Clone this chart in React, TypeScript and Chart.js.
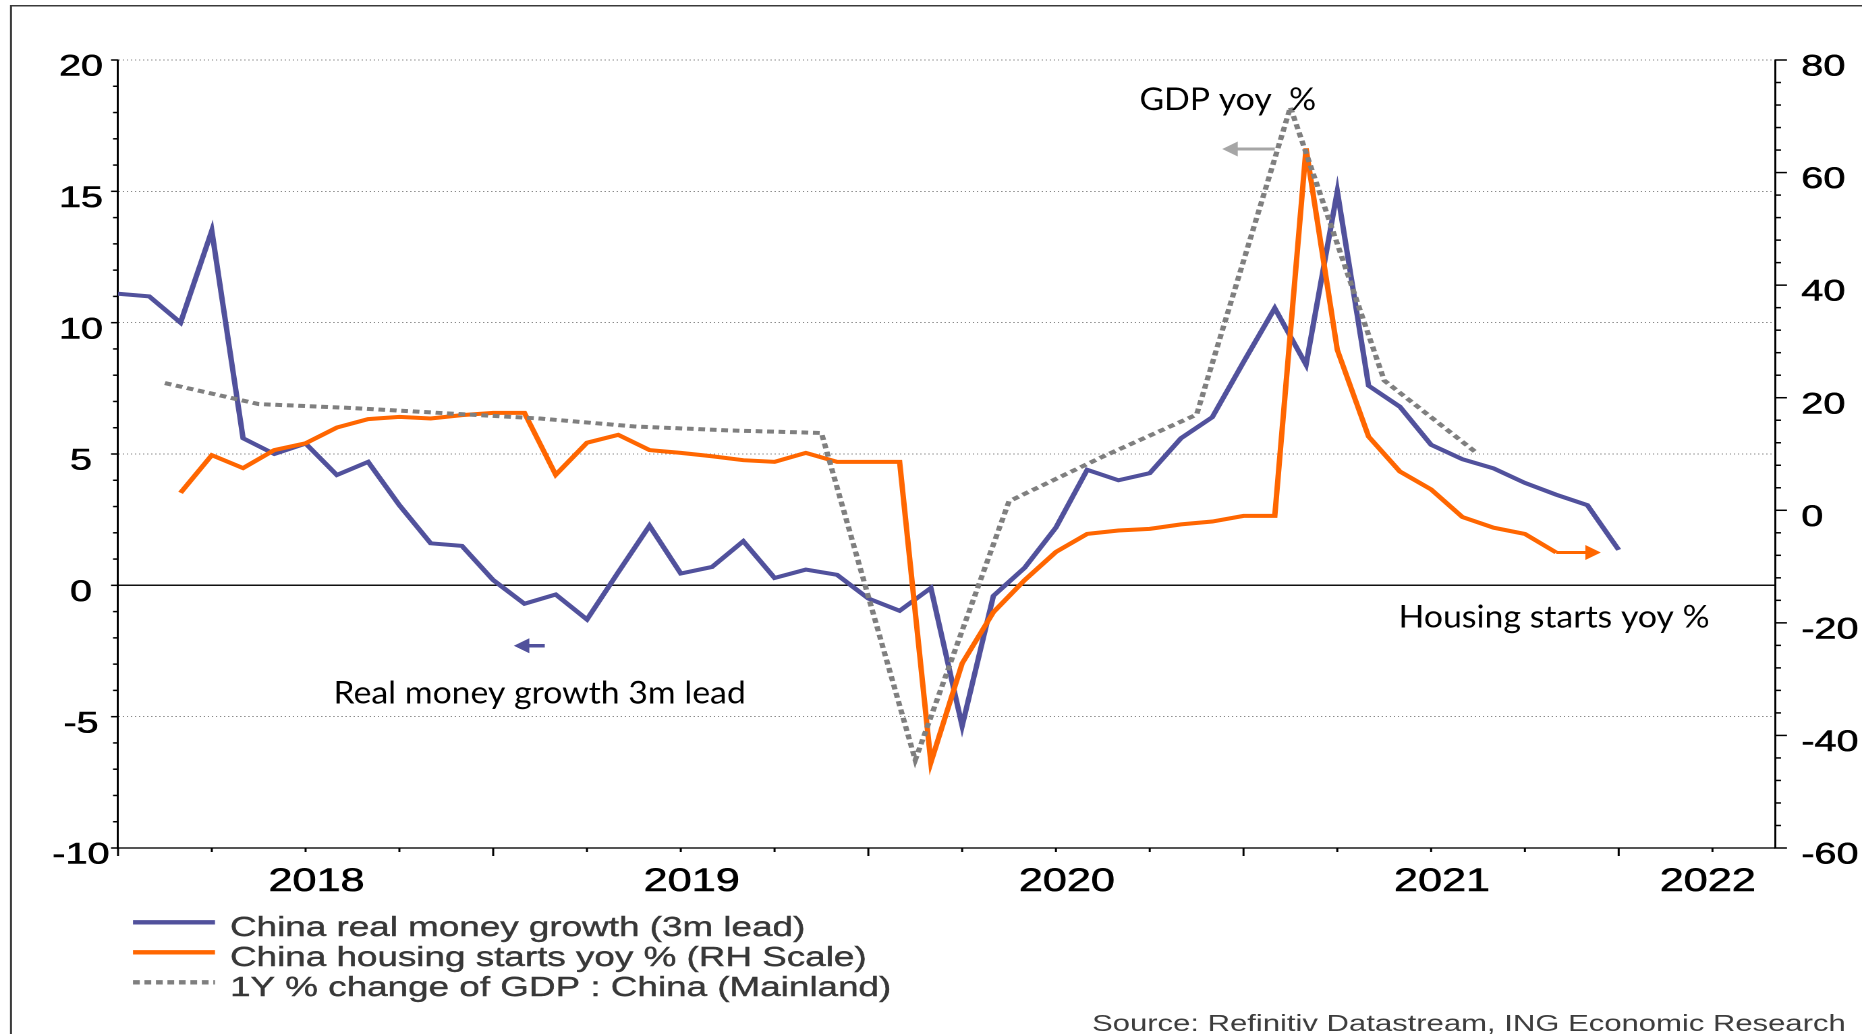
import React, { useEffect, useRef } from 'react';
import { Chart, registerables } from 'chart.js';

Chart.register(...registerables);

// ---------------- data (months counted from Jan 2018, month-end plotting) ----------------
const moneyStartMonth = 0;
const moneyGrowth = [
  11.1, 11.0, 10.0, 13.5, 5.6, 5.0, 5.4, 4.2, 4.7, 3.05,
  1.6, 1.5, 0.2, -0.7, -0.35, -1.3, 0.5, 2.27, 0.45, 0.7,
  1.68, 0.28, 0.6, 0.4, -0.5, -0.97, -0.1, -5.35, -0.4, 0.67,
  2.2, 4.4, 4.0, 4.27, 5.6, 6.4, 8.5, 10.55, 8.4, 15.0,
  7.6, 6.8, 5.35, 4.8, 4.45, 3.9, 3.45, 3.05, 1.35,
];

const housingStartMonth = 2;
const housingStarts = [
  3.1, 9.8, 7.5, 10.7, 11.9, 14.7, 16.2, 16.6, 16.3, 16.9,
  17.3, 17.3, 6.3, 12.0, 13.4, 10.7, 10.2, 9.6, 8.9, 8.6,
  10.2, 8.6, 8.6, 8.6, -44.8, -27.2, -18.1, -12.4, -7.4, -4.2,
  -3.6, -3.3, -2.5, -2.0, -1.0, -1.0, 64.3, 28.5, 13.1, 6.9,
  3.7, -1.2, -3.1, -4.2, -7.5,
];

const gdpStartMonth = 1.5;
const gdpStepMonths = 3;
const gdpGrowth = [7.7, 6.9, 6.75, 6.55, 6.35, 6.05, 5.9, 5.8, -6.65, 3.2, 4.9, 6.5, 18.2, 7.8, 5.0];

const yearLabels = ['2018', '2019', '2020', '2021', '2022'];
const seriesLabels = [
  'China real money growth (3m lead)',
  'China housing starts yoy % (RH Scale)',
  '1Y % change of GDP : China (Mainland)',
];
const sourceText = 'Source: Refinitiv Datastream, ING Economic Research';

// axis ranges
const X_MIN = 0;
const X_MAX = 53;
const YL_MIN = -10, YL_MAX = 20, YL_STEP = 5, YL_MINOR = 1;
const YR_MIN = -60, YR_MAX = 80, YR_STEP = 20, YR_MINOR = 4;
const X_MINOR = 3, X_MAJOR = 12;

// annotations (data coordinates)
const textNotes = [
  { text: 'GDP yoy  %', x: 32.67, y: 18.1, axis: 'yL' },
  { text: 'Real money growth 3m lead', x: 6.89, y: -4.49, axis: 'yL' },
  { text: 'Housing starts yoy %', x: 40.96, y: -1.6, axis: 'yL' },
];
const arrowNotes = [
  { from: 37.0, to: 35.32, y: 16.61, axis: 'yL', color: '#a6a6a6', width: 3 },
  { from: 13.65, to: 12.66, y: -2.3, axis: 'yL', color: '#51519c', width: 3.5 },
];
const housingArrowTip = 47.43;

// ---------------- layout / styles ----------------
const CANVAS_W = 1380;
const CANVAS_H = 1034;
const S = 1862 / CANVAS_W; // horizontal stretch of the whole picture
const PLOT_LEFT = 118 / S;
const PLOT_RIGHT = 1775 / S;
const PLOT_TOP = 60;
const PLOT_BOTTOM = 848;

const BLUE = '#51519c';
const ORANGE = '#ff6600';
const GRAY = '#7f7f7f';
const ARIAL = '"Liberation Sans", Arial, sans-serif';
const ANNO_STRETCH = 1.09;

const toPoints = (vals: number[], start: number, step: number) =>
  vals.map((v, i) => ({ x: start + i * step, y: v }));

const yearLabelMonth = (i: number) => {
  const start = i * 12;
  const end = Math.min(start + 12, X_MAX);
  return (start + end) / 2 + 0.35;
};

const decorPlugin = {
  id: 'decor',
  afterDraw(chart: any) {
    const { ctx, chartArea: a, scales } = chart;
    const xs = scales.x, yl = scales.yL, yr = scales.yR;
    ctx.save();

    // outer frame (left and top edge)
    ctx.strokeStyle = '#3a3a3a';
    ctx.lineWidth = 1.5;
    ctx.beginPath();
    ctx.moveTo(11 / S, CANVAS_H + 10);
    ctx.lineTo(11 / S, 5.7);
    ctx.lineTo(CANVAS_W + 10, 5.7);
    ctx.stroke();

    // tick marks
    ctx.strokeStyle = '#000';
    ctx.lineWidth = 1.5;
    const seg = (x1: number, y1: number, x2: number, y2: number) => {
      ctx.beginPath(); ctx.moveTo(x1, y1); ctx.lineTo(x2, y2); ctx.stroke();
    };
    for (let v = YL_MIN; v <= YL_MAX + 1e-9; v += YL_MINOR) {
      const py = yl.getPixelForValue(v);
      const len = v % YL_STEP === 0 ? 7 / S : 5 / S;
      seg(a.left - len, py, a.left, py);
    }
    for (let v = YR_MIN; v <= YR_MAX + 1e-9; v += YR_MINOR) {
      const py = yr.getPixelForValue(v);
      const len = v % YR_STEP === 0 ? 12 / S : 6 / S;
      seg(a.right, py, a.right + len, py);
    }
    for (let m = X_MIN; m <= X_MAX + 1e-9; m += X_MINOR) {
      const px = xs.getPixelForValue(m);
      const len = m % X_MAJOR === 0 ? 8 : 4;
      seg(px, a.bottom, px, a.bottom + len);
    }

    // legend
    const ds = chart.data.datasets;
    ds.forEach((d: any, i: number) => {
      const rowY = 922.3 + i * 30;
      ctx.save();
      ctx.strokeStyle = d.borderColor;
      ctx.lineWidth = 4.3;
      ctx.setLineDash(d.borderDash || []);
      ctx.beginPath();
      ctx.moveTo(133 / S, rowY);
      ctx.lineTo(215 / S, rowY);
      ctx.stroke();
      ctx.restore();
      ctx.fillStyle = '#383838';
      ctx.strokeStyle = '#383838';
      ctx.lineWidth = 0.4;
      ctx.font = `27.3px ${ARIAL}`;
      ctx.textBaseline = 'alphabetic';
      ctx.textAlign = 'left';
      ctx.fillText(d.label, 230 / S, rowY + 13.9);
      ctx.strokeText(d.label, 230 / S, rowY + 13.9);
    });

    // source
    ctx.fillStyle = '#3d3d3d';
    ctx.font = `23px ${ARIAL}`;
    ctx.fillText(sourceText, 1092 / S, 1031);

    // annotation texts (drawn un-stretched)
    textNotes.forEach((n) => {
      const px = xs.getPixelForValue(n.x);
      const py = scales[n.axis].getPixelForValue(n.y);
      ctx.save();
      ctx.translate(px, py);
      ctx.scale(ANNO_STRETCH / S, 1);
      ctx.fillStyle = '#000';
      ctx.font = `31px Lato, "Open Sans", sans-serif`;
      ctx.textBaseline = 'alphabetic';
      ctx.textAlign = 'left';
      ctx.fillText(n.text, 0, 0);
      ctx.restore();
    });

    const arrow = (x1: number, x2: number, y: number, color: string, width: number) => {
      const dir = Math.sign(x2 - x1);
      const headLen = 15.5 / S, headHalf = 7.5;
      ctx.strokeStyle = color; ctx.fillStyle = color; ctx.lineWidth = width;
      ctx.setLineDash([]);
      ctx.beginPath(); ctx.moveTo(x1, y); ctx.lineTo(x2 - dir * headLen * 0.7, y); ctx.stroke();
      ctx.beginPath();
      ctx.moveTo(x2, y);
      ctx.lineTo(x2 - dir * headLen, y - headHalf);
      ctx.lineTo(x2 - dir * headLen, y + headHalf);
      ctx.closePath(); ctx.fill();
    };
    arrowNotes.forEach((n) => {
      const y = scales[n.axis].getPixelForValue(n.y);
      arrow(xs.getPixelForValue(n.from), xs.getPixelForValue(n.to), y, n.color, n.width);
    });
    // housing arrow continues from the last housing-starts point
    const lastIdx = housingStarts.length - 1;
    const lastX = housingStartMonth + lastIdx;
    const hy = yr.getPixelForValue(housingStarts[lastIdx]);
    arrow(xs.getPixelForValue(lastX), xs.getPixelForValue(housingArrowTip), hy, ORANGE, 3);

    ctx.restore();
  },
};

export default function App() {
  const ref = useRef<HTMLCanvasElement | null>(null);

  useEffect(() => {
    if (!ref.current) return;
    const chart = new Chart(ref.current, {
      type: 'line',
      data: {
        datasets: [
          {
            label: seriesLabels[0],
            data: toPoints(moneyGrowth, moneyStartMonth, 1),
            yAxisID: 'yL',
            borderColor: BLUE,
            borderWidth: 4,
            pointRadius: 0,
            tension: 0,
            borderJoinStyle: 'miter',
            order: 3,
          },
          {
            label: seriesLabels[1],
            data: toPoints(housingStarts, housingStartMonth, 1),
            yAxisID: 'yR',
            borderColor: ORANGE,
            borderWidth: 4,
            pointRadius: 0,
            tension: 0,
            borderJoinStyle: 'miter',
            order: 2,
          },
          {
            label: seriesLabels[2],
            data: toPoints(gdpGrowth, gdpStartMonth, gdpStepMonths),
            yAxisID: 'yL',
            borderColor: GRAY,
            borderWidth: 4,
            borderDash: [5, 3.5],
            pointRadius: 0,
            tension: 0,
            borderJoinStyle: 'miter',
            order: 1,
          },
        ],
      } as any,
      options: {
        responsive: false,
        maintainAspectRatio: false,
        animation: false,
        devicePixelRatio: 2,
        layout: { padding: { top: PLOT_TOP, left: 0, right: 0, bottom: 0 } },
        plugins: { legend: { display: false }, tooltip: { enabled: false } },
        events: [],
        scales: {
          x: {
            type: 'linear',
            position: 'bottom',
            min: X_MIN,
            max: X_MAX,
            grid: { display: false, drawTicks: false },
            border: { display: false },
            afterBuildTicks: (scale: any) => {
              scale.ticks = yearLabels.map((_, i) => ({ value: yearLabelMonth(i) }));
            },
            afterFit: (scale: any) => { scale.height = CANVAS_H - PLOT_BOTTOM; },
            ticks: {
              autoSkip: false,
              maxRotation: 0,
              minRotation: 0,
              padding: 14.8,
              color: '#000',
              textStrokeColor: '#000',
              textStrokeWidth: 0.6,
              font: { family: ARIAL, size: 32 },
              callback: (_v: any, i: number) => yearLabels[i],
            },
          },
          yL: {
            type: 'linear',
            position: 'left',
            min: YL_MIN,
            max: YL_MAX,
            afterFit: (scale: any) => { scale.width = PLOT_LEFT; },
            ticks: {
              stepSize: YL_STEP,
              crossAlign: 'center',
              padding: 6.3,
              labelOffset: 7.5,
              color: '#000',
              textStrokeColor: '#000',
              textStrokeWidth: 0.6,
              font: { family: ARIAL, size: 29.3 },
              callback: (v: any) => String(v),
            },
            grid: {
              drawTicks: false,
              color: (c: any) => !c.tick ? '#8a8a8a' : c.tick.value === 0 ? '#111' : c.tick.value === YL_MIN ? '#555' : '#8a8a8a',
              lineWidth: (c: any) => !c.tick ? 1 : c.tick.value === 0 ? 1.5 : c.tick.value === YL_MIN ? 2 : 1,
            },
            border: {
              display: true,
              color: '#000',
              width: 1.5,
              dash: (c: any) => (c.tick && c.tick.value !== 0 && c.tick.value !== YL_MIN ? [1, 2] : []),
            },
          },
          yR: {
            type: 'linear',
            position: 'right',
            min: YR_MIN,
            max: YR_MAX,
            afterFit: (scale: any) => { scale.width = CANVAS_W - PLOT_RIGHT; },
            ticks: {
              stepSize: YR_STEP,
              crossAlign: 'near',
              padding: 19.5,
              labelOffset: 7.5,
              color: '#000',
              textStrokeColor: '#000',
              textStrokeWidth: 0.6,
              font: { family: ARIAL, size: 29.3 },
              callback: (v: any) => String(v),
            },
            grid: { drawOnChartArea: false, drawTicks: false },
            border: { display: true, color: '#000', width: 1.5 },
          },
        },
      } as any,
      plugins: [decorPlugin as any],
    });
    return () => chart.destroy();
  }, []);

  return (
    <div style={{ position: 'absolute', left: 0, top: 0, width: 1862, height: CANVAS_H, overflow: 'hidden', background: '#fff' }}>
      <div style={{ width: CANVAS_W, height: CANVAS_H, transform: `scaleX(${S})`, transformOrigin: '0 0' }}>
        <canvas ref={ref} width={CANVAS_W} height={CANVAS_H} style={{ width: CANVAS_W, height: CANVAS_H, display: 'block' }} />
      </div>
    </div>
  );
}
